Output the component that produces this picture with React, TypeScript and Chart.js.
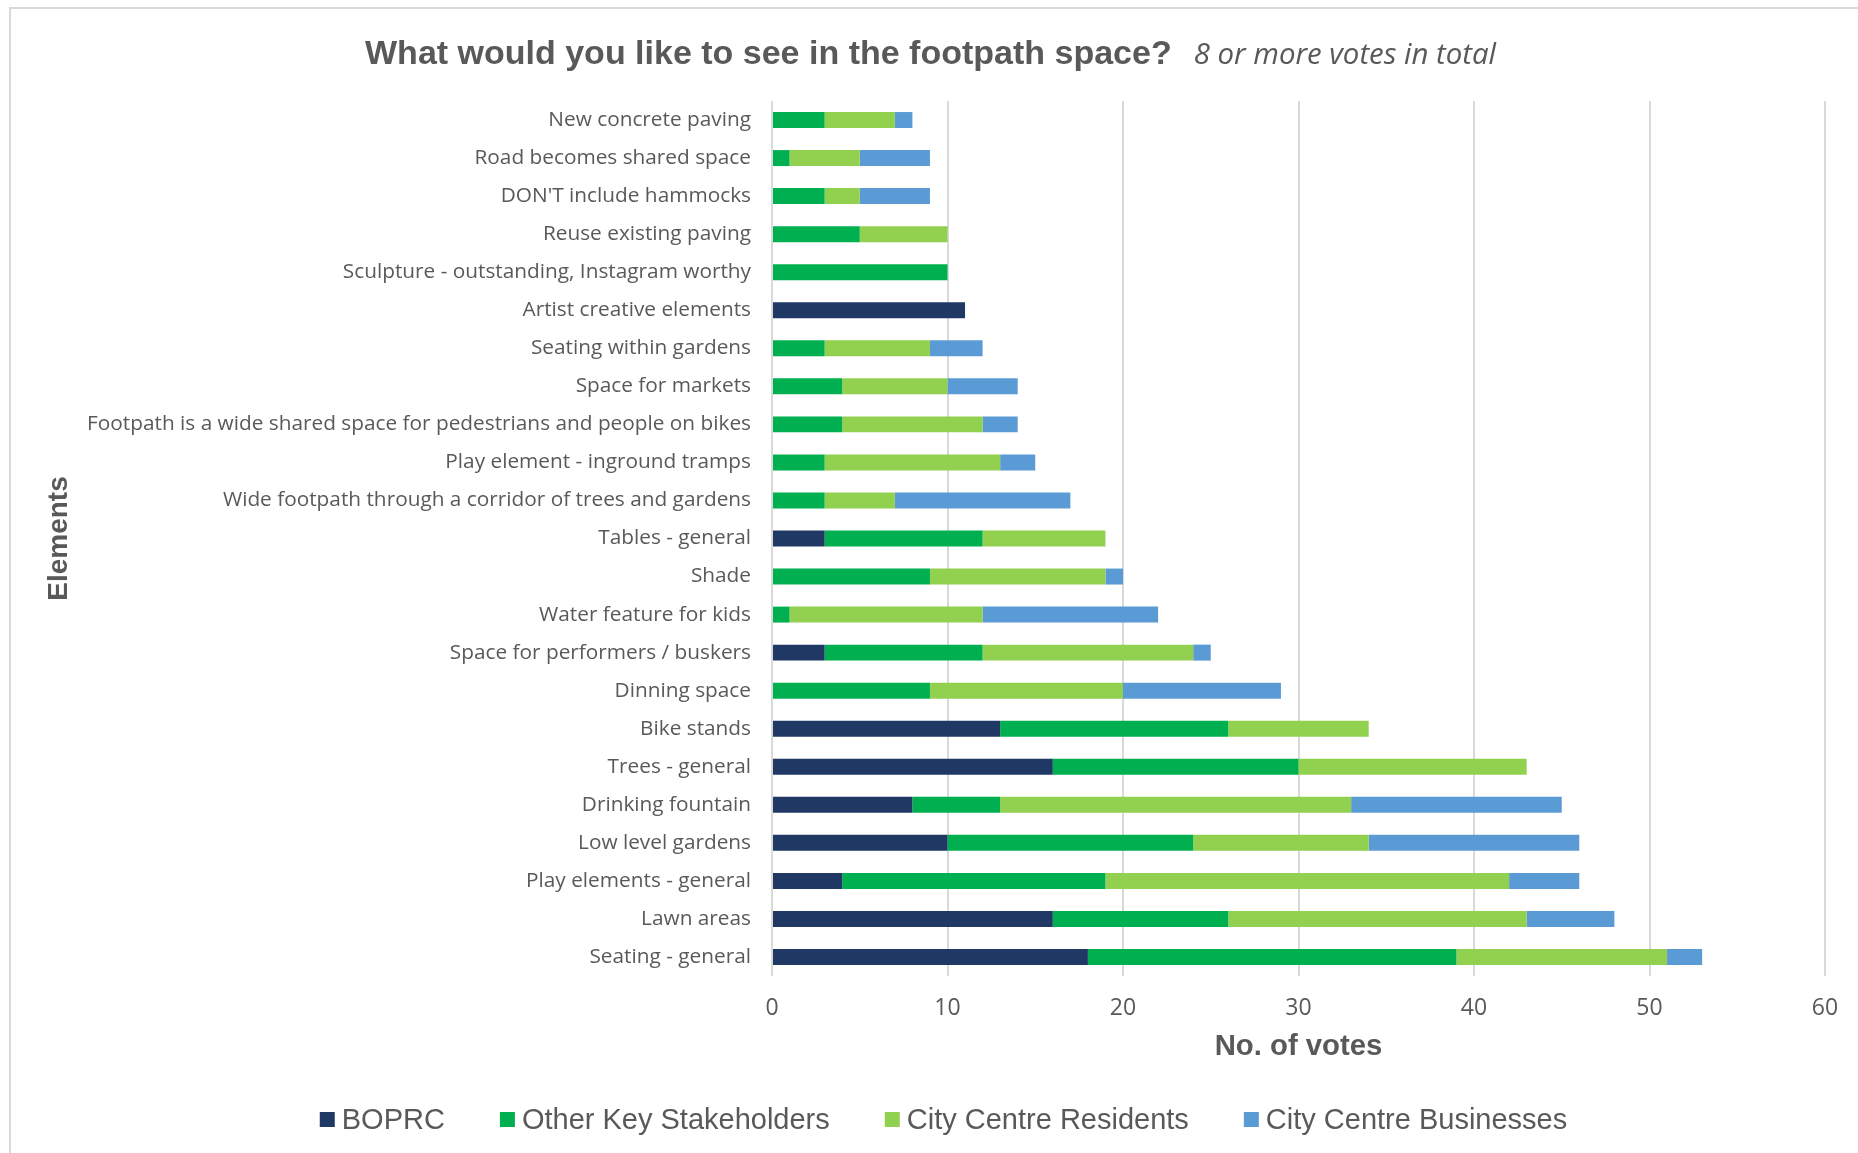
import React, { useEffect, useRef } from 'react';
import { Chart, registerables } from 'chart.js';

Chart.register(...registerables);

const titleText = 'What would you like to see in the footpath space?';
const subtitleText = '8 or more votes in total';
const xAxisTitle = 'No. of votes';
const yAxisTitle = 'Elements';

const categories = [
  'New concrete paving',
  'Road becomes shared space',
  "DON'T include hammocks",
  'Reuse existing paving',
  'Sculpture - outstanding, Instagram worthy',
  'Artist creative elements',
  'Seating within gardens',
  'Space for markets',
  'Footpath is a wide shared space for pedestrians and people on bikes',
  'Play element - inground tramps',
  'Wide footpath through a corridor of trees and gardens',
  'Tables - general',
  'Shade',
  'Water feature for kids',
  'Space for performers / buskers',
  'Dinning space',
  'Bike stands',
  'Trees - general',
  'Drinking fountain',
  'Low level gardens',
  'Play elements - general',
  'Lawn areas',
  'Seating - general',
];

const boprc = [0, 0, 0, 0, 0, 11, 0, 0, 0, 0, 0, 3, 0, 0, 3, 0, 13, 16, 8, 10, 4, 16, 18];
const otherKeyStakeholders = [3, 1, 3, 5, 10, 0, 3, 4, 4, 3, 3, 9, 9, 1, 9, 9, 13, 14, 5, 14, 15, 10, 21];
const cityCentreResidents = [4, 4, 2, 5, 0, 0, 6, 6, 8, 10, 4, 7, 10, 11, 12, 11, 8, 13, 20, 10, 23, 17, 12];
const cityCentreBusinesses = [1, 4, 4, 0, 0, 0, 3, 4, 2, 2, 10, 0, 1, 10, 1, 9, 0, 0, 12, 12, 4, 5, 2];

const seriesNames = ['BOPRC', 'Other Key Stakeholders', 'City Centre Residents', 'City Centre Businesses'];
const seriesColors = ['#203864', '#00B050', '#92D050', '#5B9BD5'];

const xMin = 0;
const xMax = 60;
const xStep = 10;

const TEXT = '#595959';
const GRID = '#d9d9d9';

const decorPlugin = {
  id: 'decor',
  beforeDraw(chart: any) {
    const ctx = chart.ctx;
    ctx.save();
    ctx.fillStyle = '#ffffff';
    ctx.fillRect(0, 0, chart.width, chart.height);
    ctx.fillStyle = GRID;
    ctx.fillRect(9, 7, chart.width - 9, 2);
    ctx.fillRect(9, 7, 2, chart.height - 7);
    ctx.restore();
  },
  afterDraw(chart: any) {
    const ctx = chart.ctx;
    ctx.save();
    ctx.fillStyle = TEXT;
    ctx.textBaseline = 'alphabetic';
    ctx.textAlign = 'left';
    const tFont = 'bold 34px "Liberation Sans", Arial, sans-serif';
    const sFont = 'italic 29.4px "Open Sans", sans-serif';
    ctx.font = tFont;
    const w1 = ctx.measureText(titleText).width;
    ctx.font = sFont;
    const w2 = ctx.measureText(subtitleText).width;
    const gap = 22;
    const x0 = 930.5 - (w1 + gap + w2) / 2;
    ctx.font = tFont;
    ctx.fillText(titleText, x0, 64);
    ctx.font = sFont;
    ctx.fillText(subtitleText, x0 + w1 + gap, 64);

    // legend
    ctx.font = '29px "Liberation Sans", Arial, sans-serif';
    const box = 15;
    const boxGap = 7;
    const itemGap = 55;
    const items = chart.data.datasets.map((ds: any) => ({
      text: ds.label,
      color: ds.backgroundColor,
      w: ctx.measureText(ds.label).width,
    }));
    const total = items.reduce((s: number, it: any) => s + box + boxGap + it.w, 0) + itemGap * (items.length - 1);
    let x = 943.5 - total / 2;
    const baseY = 1129;
    for (const it of items) {
      ctx.fillStyle = it.color;
      ctx.fillRect(x, 1112, box, box);
      ctx.fillStyle = TEXT;
      ctx.fillText(it.text, x + box + boxGap, baseY);
      x += box + boxGap + it.w + itemGap;
    }
    ctx.restore();
  },
};

export default function App() {
  const canvasRef = useRef<HTMLCanvasElement | null>(null);

  useEffect(() => {
    if (!canvasRef.current) return;
    const seriesData = [boprc, otherKeyStakeholders, cityCentreResidents, cityCentreBusinesses];
    const chart = new Chart(canvasRef.current, {
      type: 'bar',
      data: {
        labels: categories,
        datasets: seriesNames.map((name, i) => ({
          label: name,
          data: seriesData[i],
          backgroundColor: seriesColors[i],
          borderWidth: 0,
          barPercentage: 0.42,
          categoryPercentage: 1,
        })),
      },
      options: {
        indexAxis: 'y',
        animation: false,
        responsive: true,
        maintainAspectRatio: false,
        devicePixelRatio: 1,
        layout: { padding: { top: 101, left: 42, right: 33, bottom: 89 } },
        plugins: {
          legend: { display: false },
          title: { display: false },
          tooltip: { enabled: false },
        },
        scales: {
          x: {
            stacked: true,
            min: xMin,
            max: xMax,
            afterFit: (scale: any) => {
              scale.height = 88;
            },
            ticks: {
              stepSize: xStep,
              color: TEXT,
              padding: 19,
              font: { family: '"Open Sans", sans-serif', size: 23 },
            },
            grid: { color: GRID, lineWidth: 2, drawTicks: false },
            border: { display: false },
            title: {
              display: true,
              text: xAxisTitle,
              color: TEXT,
              font: { family: '"Liberation Sans", Arial, sans-serif', size: 29.3, weight: 'bold' },
              padding: { top: 0, bottom: 0 },
            },
          },
          y: {
            stacked: true,
            afterFit: (scale: any) => {
              scale.width = 730;
            },
            ticks: {
              color: TEXT,
              padding: 21,
              autoSkip: false,
              font: { family: '"Open Sans", sans-serif', size: 20.8 },
            },
            grid: { display: false, drawTicks: false },
            border: { display: false },
            title: {
              display: true,
              text: yAxisTitle,
              color: TEXT,
              font: { family: '"Liberation Sans", Arial, sans-serif', size: 28, weight: 'bold' },
              padding: { top: 0, bottom: 0 },
            },
          },
        },
      },
      plugins: [decorPlugin],
    });
    return () => chart.destroy();
  }, []);

  return (
    <div style={{ position: 'fixed', left: 0, top: 0, width: 1858, height: 1153, background: '#fff' }}>
      <canvas ref={canvasRef} style={{ width: '1858px', height: '1153px', display: 'block' }} />
    </div>
  );
}
